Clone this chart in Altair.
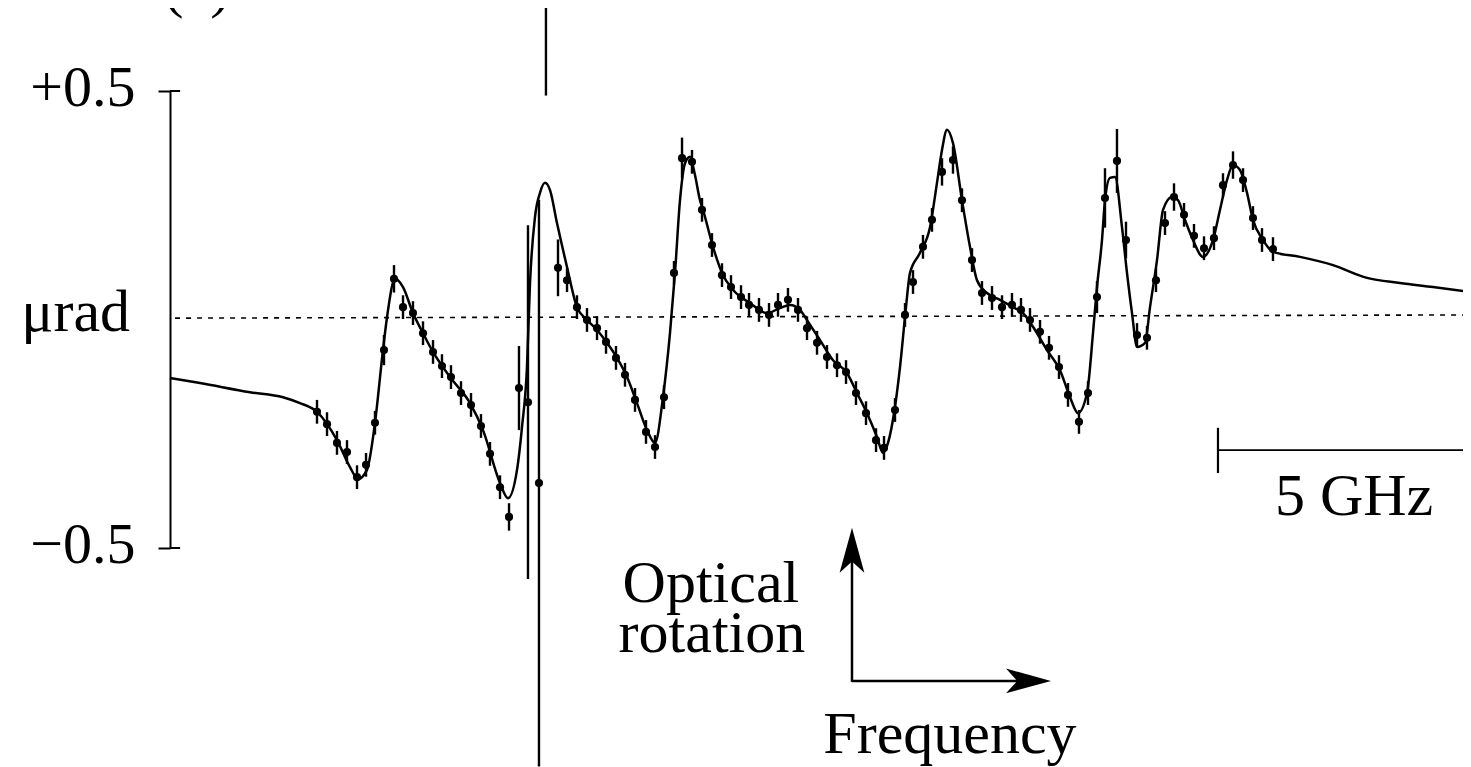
import altair as alt
import pandas as pd

# ---- fitted curve (frequency offset in GHz, optical rotation in microrad) ----
fit_x = [0.000, 0.593, 1.581, 2.233, 2.569, 2.905, 3.300, 3.557, 3.715, 3.893,
         4.051, 4.209, 4.289, 4.447, 4.605, 4.802, 5.000, 5.198, 5.534, 5.929,
         6.186, 6.522, 6.680, 6.858, 6.957, 7.055, 7.115, 7.213, 7.312, 7.411,
         7.510, 7.648, 7.846, 8.043, 8.241, 8.439, 8.636, 8.834, 9.032, 9.229,
         9.427, 9.585, 9.743, 9.881, 9.980, 10.079, 10.178, 10.277, 10.375, 10.474,
         10.534, 10.731, 10.909, 11.126, 11.462, 11.798, 12.055, 12.253, 12.451, 12.609,
         12.846, 13.103, 13.379, 13.577, 13.775, 13.972, 14.091, 14.190, 14.328, 14.427,
         14.526, 14.625, 14.822, 15.020, 15.158, 15.257, 15.356, 15.474, 15.652, 15.810,
         15.949, 16.146, 16.403, 16.660, 16.858, 17.055, 17.332, 17.589, 17.787, 17.945,
         18.123, 18.241, 18.320, 18.419, 18.478, 18.577, 18.676, 18.814, 18.913, 19.012,
         19.111, 19.269, 19.368, 19.506, 19.625, 19.802, 19.921, 20.059, 20.217, 20.415,
         20.613, 20.751, 20.889, 21.008, 21.146, 21.285, 21.403, 21.601, 21.798, 22.332,
         22.984, 23.656, 24.308, 24.960, 25.711]
fit_y = [-0.128, -0.139, -0.159, -0.170, -0.183, -0.202, -0.264, -0.323, -0.349, -0.329,
         -0.226, -0.067, 0.005, 0.089, 0.071, 0.014, -0.030, -0.071, -0.126, -0.183,
         -0.242, -0.358, -0.391, -0.329, -0.235, -0.104, 0.080, 0.224, 0.277, 0.299,
         0.283, 0.211, 0.115, 0.027, -0.001, -0.023, -0.051, -0.084, -0.126, -0.183,
         -0.242, -0.270, -0.170, -0.030, 0.102, 0.261, 0.342, 0.356, 0.316, 0.261,
         0.240, 0.159, 0.102, 0.065, 0.036, 0.014, 0.025, 0.032, 0.021, -0.005,
         -0.045, -0.089, -0.117, -0.161, -0.205, -0.257, -0.292, -0.270, -0.191, -0.104,
         0.005, 0.102, 0.146, 0.202, 0.299, 0.371, 0.415, 0.386, 0.261, 0.159,
         0.086, 0.058, 0.043, 0.027, 0.014, -0.016, -0.067, -0.111, -0.170, -0.205,
         -0.161, -0.030, 0.071, 0.174, 0.261, 0.310, 0.312, 0.202, 0.102, 0.014,
         -0.060, -0.051, 0.027, 0.130, 0.240, 0.268, 0.261, 0.218, 0.174, 0.137,
         0.174, 0.240, 0.305, 0.338, 0.327, 0.277, 0.218, 0.174, 0.148, 0.137,
         0.119, 0.091, 0.080, 0.071, 0.060]

# ---- measured points with error bars ----
pt_x = [2.905, 3.103, 3.300, 3.498, 3.696, 3.874, 4.051, 4.229, 4.427, 4.605,
        4.802, 5.000, 5.198, 5.375, 5.553, 5.751, 5.949, 6.146, 6.324, 6.522,
        6.700, 6.897, 7.075, 7.292, 7.668, 7.846, 8.043, 8.241, 8.439, 8.617,
        8.814, 8.992, 9.190, 9.407, 9.585, 9.763, 9.960, 10.119, 10.316, 10.514,
        10.711, 10.909, 11.087, 11.285, 11.443, 11.640, 11.838, 12.016, 12.213, 12.411,
        12.589, 12.787, 12.984, 13.182, 13.360, 13.557, 13.755, 13.953, 14.111, 14.328,
        14.526, 14.684, 14.881, 15.059, 15.257, 15.474, 15.652, 15.850, 16.047, 16.245,
        16.443, 16.640, 16.818, 16.996, 17.194, 17.372, 17.569, 17.747, 17.964, 18.142,
        18.320, 18.478, 18.715, 18.893, 19.111, 19.308, 19.486, 19.664, 19.842, 20.040,
        20.237, 20.435, 20.632, 20.810, 21.008, 21.206, 21.403, 21.581, 21.798]
pt_y = [-0.202, -0.229, -0.270, -0.290, -0.345, -0.318, -0.226, -0.067, 0.089, 0.027,
        0.014, -0.030, -0.071, -0.102, -0.126, -0.161, -0.187, -0.233, -0.294, -0.367,
        -0.432, -0.150, -0.181, -0.358, 0.113, 0.086, 0.027, -0.001, -0.019, -0.049,
        -0.084, -0.121, -0.176, -0.246, -0.279, -0.170, 0.102, 0.353, 0.345, 0.240,
        0.163, 0.097, 0.071, 0.049, 0.032, 0.021, 0.010, 0.032, 0.043, 0.021,
        -0.019, -0.051, -0.082, -0.100, -0.115, -0.161, -0.205, -0.264, -0.281, -0.198,
        0.010, 0.082, 0.159, 0.218, 0.323, 0.349, 0.261, 0.130, 0.058, 0.047,
        0.027, 0.032, 0.021, -0.001, -0.027, -0.062, -0.104, -0.165, -0.224, -0.161,
        0.049, 0.266, 0.347, 0.174, -0.034, -0.040, 0.086, 0.211, 0.268, 0.229,
        0.183, 0.156, 0.178, 0.294, 0.338, 0.305, 0.222, 0.174, 0.154]
pt_err = [0.026, 0.026, 0.026, 0.026, 0.026, 0.026, 0.026, 0.033, 0.030, 0.026,
          0.026, 0.026, 0.026, 0.026, 0.026, 0.026, 0.026, 0.026, 0.026, 0.026,
          0.030, 0.092, 0.387, 0.620, 0.062, 0.026, 0.026, 0.026, 0.026, 0.026,
          0.026, 0.026, 0.026, 0.026, 0.026, 0.026, 0.026, 0.045, 0.026, 0.026,
          0.026, 0.026, 0.026, 0.026, 0.026, 0.026, 0.026, 0.026, 0.026, 0.026,
          0.026, 0.026, 0.026, 0.026, 0.026, 0.026, 0.026, 0.026, 0.026, 0.026,
          0.026, 0.026, 0.026, 0.026, 0.030, 0.030, 0.026, 0.026, 0.026, 0.026,
          0.026, 0.026, 0.026, 0.026, 0.026, 0.026, 0.026, 0.026, 0.026, 0.026,
          0.035, 0.065, 0.070, 0.040, 0.026, 0.026, 0.026, 0.026, 0.030, 0.026,
          0.026, 0.026, 0.026, 0.026, 0.030, 0.026, 0.026, 0.026, 0.026]

# off-scale spike near the narrow resonance
spike_x = [7.43]
spike_lo = [0.49]
spike_hi = [0.72]

# zero reference (dotted)
zero_x = [0.10, 25.711]
zero_y = [0.003, 0.010]

# y tick values
ytick_vals = [-0.5, 0.5]

FONT = "Liberation Serif"
FS = 58
FS_NOTE = 60
INK = "#000000"

PX_PER_GHZ = 50.6
PLOT_W = 1293
xs = alt.Scale(domain=[0, PLOT_W / PX_PER_GHZ], nice=False, zero=False)
ys = alt.Scale(domain=[-0.5, 0.5], nice=False, zero=False)

fit_df = pd.DataFrame({"f": fit_x, "r": fit_y})
pts_df = pd.DataFrame({"f": pt_x, "r": pt_y, "e": pt_err})
pts_df["lo"] = pts_df["r"] - pts_df["e"]
pts_df["hi"] = pts_df["r"] + pts_df["e"]
spike_df = pd.DataFrame({"f": spike_x, "lo": spike_lo, "hi": spike_hi})
zero_df = pd.DataFrame({"f": zero_x, "r": zero_y})

yaxis = alt.Axis(
    values=ytick_vals,
    labelExpr="datum.value > 0 ? '+0.5' : '\u22120.5'",
    title=None, grid=False,
    domainColor=INK, domainWidth=2,
    tickColor=INK, tickWidth=2, tickSize=12,
    labelFont=FONT, labelFontSize=FS, labelColor=INK,
    labelPadding=23, labelOverlap=False,
    labelBaseline="alphabetic", labelOffset=14,
)

fit = alt.Chart(fit_df).mark_line(color=INK, strokeWidth=2.5, interpolate="monotone").encode(
    x=alt.X("f:Q", scale=xs, axis=None),
    y=alt.Y("r:Q", scale=ys, axis=yaxis),
)

zero = alt.Chart(zero_df).mark_line(color=INK, strokeWidth=1.6, strokeDash=[5, 6]).encode(
    x=alt.X("f:Q", scale=xs), y=alt.Y("r:Q", scale=ys)
)

bars = alt.Chart(pts_df).mark_rule(color=INK, strokeWidth=2.4).encode(
    x=alt.X("f:Q", scale=xs), y=alt.Y("lo:Q", scale=ys), y2="hi:Q"
)

dots = alt.Chart(pts_df).mark_circle(color=INK, size=66, opacity=1).encode(
    x=alt.X("f:Q", scale=xs), y=alt.Y("r:Q", scale=ys)
)

spike = alt.Chart(spike_df).mark_rule(color=INK, strokeWidth=2.4).encode(
    x=alt.X("f:Q", scale=xs), y=alt.Y("lo:Q", scale=ys), y2="hi:Q"
)

# right-hand half of the y ticks
tick_df = pd.DataFrame({"x1": [0.0, 0.0], "x2": [0.2, 0.2], "r": ytick_vals})
ticks = alt.Chart(tick_df).mark_rule(color=INK, strokeWidth=2).encode(
    x=alt.X("x1:Q", scale=xs), x2="x2:Q", y=alt.Y("r:Q", scale=ys)
)

# 5 GHz scale bar
bar_df = pd.DataFrame({"x1": [20.711], "x2": [25.711], "r": [-0.286]})
scalebar = alt.Chart(bar_df).mark_rule(color=INK, strokeWidth=1.8).encode(
    x=alt.X("x1:Q", scale=xs), x2="x2:Q", y=alt.Y("r:Q", scale=ys)
)
bartick_df = pd.DataFrame({"f": [20.711], "lo": [-0.336], "hi": [-0.237]})
bartick = alt.Chart(bartick_df).mark_rule(color=INK, strokeWidth=2.2).encode(
    x=alt.X("f:Q", scale=xs), y=alt.Y("lo:Q", scale=ys), y2="hi:Q"
)

# axes-direction arrows
varrow_df = pd.DataFrame({"f": [13.478], "lo": [-0.793], "hi": [-0.50]})
varrow = alt.Chart(varrow_df).mark_rule(color=INK, strokeWidth=2.5).encode(
    x=alt.X("f:Q", scale=xs), y=alt.Y("lo:Q", scale=ys), y2="hi:Q"
)
harrow_df = pd.DataFrame({"x1": [13.478], "x2": [16.95], "r": [-0.791]})
harrow = alt.Chart(harrow_df).mark_rule(color=INK, strokeWidth=2.5).encode(
    x=alt.X("x1:Q", scale=xs), x2="x2:Q", y=alt.Y("r:Q", scale=ys)
)
uphead = alt.Chart(pd.DataFrame({"f": [13.478], "r": [-0.505]})).mark_point(
    shape="M0,-1 L0.55,1 L0,0.5 L-0.55,1 Z", size=2025, filled=True, opacity=1,
    color=INK, strokeWidth=0,
).encode(x=alt.X("f:Q", scale=xs), y=alt.Y("r:Q", scale=ys))
righthead = alt.Chart(pd.DataFrame({"f": [16.966], "r": [-0.791]})).mark_point(
    shape="M1,0 L-1,-0.55 L-0.5,0 L-1,0.55 Z", size=2025, filled=True, opacity=1,
    color=INK, strokeWidth=0,
).encode(x=alt.X("f:Q", scale=xs), y=alt.Y("r:Q", scale=ys))

# text annotations
txt_df = pd.DataFrame({
    "f": [10.69, 10.71, 15.415, 23.40, 0.53],
    "r": [-0.618, -0.728, -0.949, -0.428, 0.686],
    "t": ["Optical", "rotation", "Frequency", "5 GHz", "(c)"],
})
texts = alt.Chart(txt_df).mark_text(
    font=FONT, fontSize=FS_NOTE, color=INK, align="center", baseline="alphabetic"
).encode(x=alt.X("f:Q", scale=xs), y=alt.Y("r:Q", scale=ys), text="t:N")

unit_df = pd.DataFrame({"f": [-0.79], "r": [-0.025], "t": ["\u03bcrad"]})
unit = alt.Chart(unit_df).mark_text(
    font=FONT, fontSize=FS_NOTE, color=INK, align="right", baseline="alphabetic"
).encode(x=alt.X("f:Q", scale=xs), y=alt.Y("r:Q", scale=ys), text="t:N")

chart = alt.layer(
    fit, zero, bars, dots, spike, ticks, scalebar, bartick,
    varrow, harrow, uphead, righthead, texts, unit,
).properties(
    width=PLOT_W, height=457,
    autosize=alt.AutoSizeParams(type="none"),
    padding={"left": 162, "top": 83, "right": 0, "bottom": 219},
    background="white",
).configure_view(stroke=None)

chart.save("out.html", embed_options={"renderer": "svg", "actions": False})
